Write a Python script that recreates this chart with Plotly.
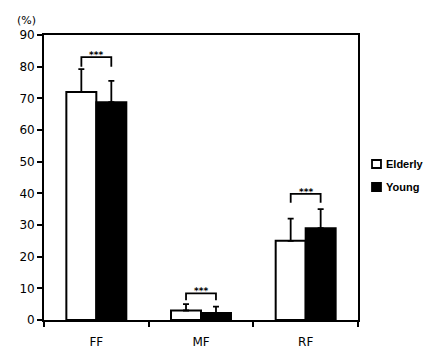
import plotly.graph_objects as go

categories = ["FF", "MF", "RF"]
elderly = [72.0, 3.0, 25.0]
elderly_err = [7.2, 2.0, 7.0]
young = [68.8, 2.2, 29.0]
young_err = [6.7, 2.0, 6.0]
bracket_top = [83.0, 8.4, 39.8]
bracket_leg = [80.0, 6.2, 37.0]
sig_labels = ["***", "***", "***"]
y_ticks = [0, 10, 20, 30, 40, 50, 60, 70, 80, 90]
series_names = ["Elderly", "Young"]
series_colors = ["white", "black"]

xpos = list(range(len(categories)))
half = 0.143
FONT = "DejaVu Sans"

fig = go.Figure()
for name, vals, errs, col in zip(series_names, [elderly, young],
                                 [elderly_err, young_err], series_colors):
    fig.add_trace(go.Bar(
        x=xpos, y=vals, name=name, showlegend=False,
        marker=dict(color=col, line=dict(color="black", width=2)),
        error_y=dict(type="data", symmetric=False, array=errs,
                     arrayminus=[0] * len(errs), color="black", thickness=1.8, width=3),
    ))

for i in xpos:
    fig.add_trace(go.Scatter(
        x=[i - half, i - half, i + half, i + half],
        y=[bracket_leg[i], bracket_top[i], bracket_top[i], bracket_leg[i]],
        mode="lines", line=dict(color="black", width=1.8),
        showlegend=False, hoverinfo="skip",
    ))
    fig.add_annotation(x=i, y=bracket_top[i], text="<b>" + sig_labels[i] + "</b>",
                       showarrow=False, yanchor="bottom", yshift=-5,
                       font=dict(size=9, color="black", family=FONT))

# manual legend (swatch + label)
legend_y = [0.5474, 0.4667]
for name, col, ly in zip(series_names, series_colors, legend_y):
    fig.add_shape(type="rect", xref="paper", yref="paper",
                  x0=1.0446, x1=1.0732, y0=ly - 0.014, y1=ly + 0.014,
                  fillcolor=col, line=dict(color="black", width=1.8))
    fig.add_annotation(xref="paper", yref="paper", x=1.0828, y=ly, text="<b>" + name + "</b>",
                       showarrow=False, xanchor="left", yanchor="middle",
                       font=dict(size=11, color="black", family="Liberation Sans"))

fig.add_annotation(xref="paper", yref="paper", x=-0.055, y=1.05, text="(%)",
                   showarrow=False, xanchor="center", yanchor="middle",
                   font=dict(size=11, color="black", family=FONT))

fig.update_layout(
    width=435, height=354,
    margin=dict(l=44, r=77, t=35, b=34, autoexpand=False),
    paper_bgcolor="white", plot_bgcolor="white",
    barmode="group", bargap=0.427, bargroupgap=0,
    font=dict(family=FONT, size=12, color="black"),
    showlegend=False,
    xaxis=dict(range=[-0.5, 2.5], tickmode="array", tickvals=xpos,
               ticktext=categories, ticks="", showgrid=False, zeroline=False,
               showline=True, linecolor="black", linewidth=1.8, mirror=True,
               ticklabelstandoff=10,
               minor=dict(tickmode="array", tickvals=[-0.5, 0.5, 1.5, 2.5],
                          ticks="outside", ticklen=5, tickwidth=1.8, tickcolor="black"),
               tickfont=dict(size=12)),
    yaxis=dict(range=[0, 90], tickmode="array", tickvals=y_ticks, ticks="outside",
               ticklen=5, tickwidth=1.8, tickcolor="black", showgrid=False,
               zeroline=False, showline=True, linecolor="black", linewidth=1.8,
               mirror=True, tickfont=dict(size=12)),
)

fig.write_html("out.html")
